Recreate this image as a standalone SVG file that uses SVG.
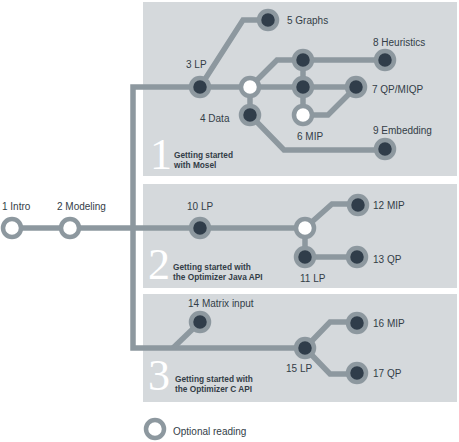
<svg xmlns="http://www.w3.org/2000/svg" width="459" height="442" viewBox="0 0 459 442">
<style>
.panel{fill:#d5d9dc}
.ln{fill:none;stroke:#8d989f;stroke-width:5.5;stroke-linejoin:miter}
.n{fill:#303d4a;stroke:#8d989f;stroke-width:4.5}
.o{fill:#ffffff;stroke:#8d989f;stroke-width:4.5}
.t{font-family:"Liberation Sans",Arial,sans-serif;font-size:10px;fill:#333d47}
.b{font-family:"Liberation Sans",Arial,sans-serif;font-size:8.3px;font-weight:bold;fill:#333d47}
.big{font-family:"Liberation Serif","Times New Roman",serif;font-size:44px;fill:#ffffff}
</style>
<rect width="459" height="442" fill="#ffffff"/>
<g id="panels">
<rect class="panel" x="143" y="2" width="314" height="174"/>
<rect class="panel" x="143" y="184" width="314" height="104"/>
<rect class="panel" x="143" y="294" width="314" height="108"/>
</g>
<g id="connectors">
<polyline class="ln" points="12,228 305,228"/>
<polyline class="ln" points="133,228 133,87 356,87"/>
<polyline class="ln" points="133,228 133,348 305,348"/>
<polyline class="ln" points="200,87 243,20 268,20"/>
<polyline class="ln" points="250,87 277,60 385,60"/>
<polyline class="ln" points="303,60 303,115"/>
<polyline class="ln" points="303,115 328,115 356,87"/>
<polyline class="ln" points="250,87 250,115 284,150 385,150"/>
<polyline class="ln" points="305,228 332,204 358,204"/>
<polyline class="ln" points="305,228 305,257 357,257"/>
<polyline class="ln" points="173,348 200,322"/>
<polyline class="ln" points="305,348 330,322 357,322"/>
<polyline class="ln" points="305,348 330,374 357,374"/>
</g>
<g id="panel-labels">
<text class="big" x="150" y="169">1</text>
<text class="b" x="174" y="158">Getting started</text>
<text class="b" x="174" y="168">with Mosel</text>
<text class="big" x="148" y="279">2</text>
<text class="b" x="173" y="270">Getting started with</text>
<text class="b" x="173" y="280">the Optimizer Java API</text>
<text class="big" x="148" y="390">3</text>
<text class="b" x="175" y="382">Getting started with</text>
<text class="b" x="175" y="392">the Optimizer C API</text>
</g>
<g id="node1"><circle class="o" cx="12" cy="228" r="9"/><text class="t" x="2" y="210">1 Intro</text></g>
<g id="node2"><circle class="o" cx="70" cy="228" r="9"/><text class="t" x="57" y="210">2 Modeling</text></g>
<g id="node3"><circle class="n" cx="200" cy="87" r="9"/><text class="t" x="186" y="68">3 LP</text></g>
<g id="node3b"><circle class="o" cx="250" cy="87" r="9"/></g>
<g id="node4"><circle class="n" cx="250" cy="115" r="9"/><text class="t" x="200" y="122">4 Data</text></g>
<g id="node5"><circle class="n" cx="268" cy="20" r="9"/><text class="t" x="287" y="24">5 Graphs</text></g>
<g id="node6a"><circle class="n" cx="303" cy="60" r="9"/></g>
<g id="node6b"><circle class="n" cx="303" cy="87" r="9"/></g>
<g id="node6"><circle class="o" cx="303" cy="115" r="9"/><text class="t" x="297" y="140">6 MIP</text></g>
<g id="node7"><circle class="n" cx="356" cy="87" r="9"/><text class="t" x="372" y="93">7 QP/MIQP</text></g>
<g id="node8"><circle class="n" cx="385" cy="60" r="9"/><text class="t" x="373" y="46">8 Heuristics</text></g>
<g id="node9"><circle class="n" cx="385" cy="149" r="9"/><text class="t" x="373" y="134">9 Embedding</text></g>
<g id="node10"><circle class="n" cx="200" cy="228" r="9"/><text class="t" x="187" y="210">10 LP</text></g>
<g id="node10b"><circle class="o" cx="305" cy="228" r="9"/></g>
<g id="node11"><circle class="n" cx="305" cy="257" r="9"/><text class="t" x="300" y="282">11 LP</text></g>
<g id="node12"><circle class="n" cx="358" cy="205" r="9"/><text class="t" x="373" y="209">12 MIP</text></g>
<g id="node13"><circle class="n" cx="357" cy="257" r="9"/><text class="t" x="373" y="263">13 QP</text></g>
<g id="node14"><circle class="n" cx="200" cy="322" r="9"/><text class="t" x="188" y="307">14 Matrix input</text></g>
<g id="node15"><circle class="n" cx="305" cy="348" r="9"/><text class="t" x="286" y="372">15 LP</text></g>
<g id="node16"><circle class="n" cx="357" cy="323" r="9"/><text class="t" x="373" y="327">16 MIP</text></g>
<g id="node17"><circle class="n" cx="357" cy="373" r="9"/><text class="t" x="373" y="377">17 QP</text></g>
<g id="legend"><circle class="o" cx="155" cy="429" r="9"/><text class="t" x="173" y="435">Optional reading</text></g>
</svg>
